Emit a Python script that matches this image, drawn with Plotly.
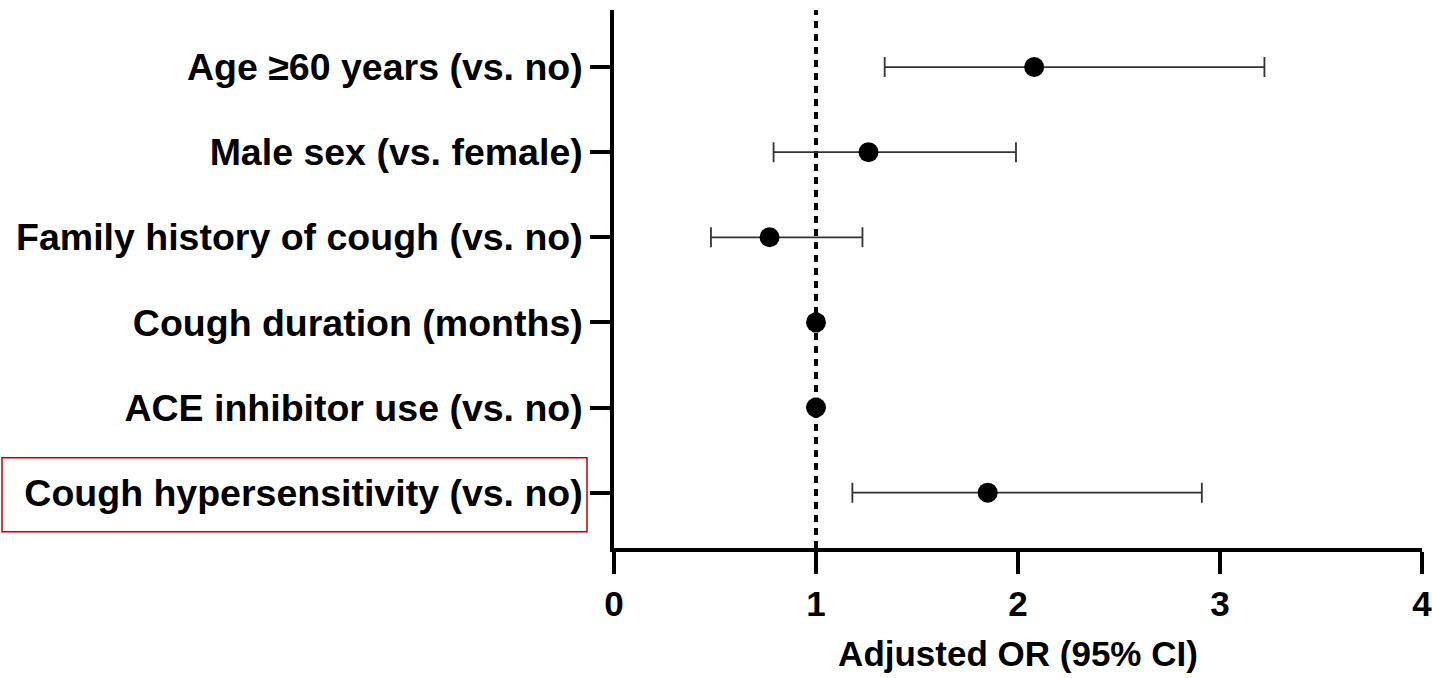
import plotly.graph_objects as go

categories = [
    "Age ≥60 years (vs. no)",
    "Male sex (vs. female)",
    "Family history of cough (vs. no)",
    "Cough duration (months)",
    "ACE inhibitor use (vs. no)",
    "Cough hypersensitivity (vs. no)",
]
odds_ratio = [2.08, 1.26, 0.77, 1.00, 1.00, 1.85]
ci_low = [1.34, 0.79, 0.48, 0.99, 0.99, 1.18]
ci_high = [3.22, 1.99, 1.23, 1.01, 1.01, 2.91]
x_ticks = [0, 1, 2, 3, 4]

positions = list(range(len(categories)))
err_plus = [h - o for h, o in zip(ci_high, odds_ratio)]
err_minus = [o - l for o, l in zip(odds_ratio, ci_low)]

fig = go.Figure()
fig.add_trace(go.Scatter(
    x=odds_ratio, y=positions, mode="markers",
    marker=dict(color="black", size=20, symbol="circle"),
    error_x=dict(type="data", symmetric=False, array=err_plus, arrayminus=err_minus,
                 color="#333333", thickness=1.8, width=10),
    showlegend=False,
))

fig.add_shape(type="line", x0=1, x1=1, xref="x", y0=0, y1=1, yref="paper",
              line=dict(color="black", width=4, dash="7px,6px"), layer="below")

L, R = 614, 1422
W = R - L
fig.add_shape(type="rect", xref="paper", yref="y",
              x0=(2 - L) / W, x1=(587 - L) / W, y0=5.46, y1=4.59,
              line=dict(color="#c00000", width=1.5))

font = "Liberation Sans, Arial, sans-serif"
fig.update_layout(
    width=1432, height=678,
    margin=dict(l=614, r=10, t=10, b=130, autoexpand=False),
    plot_bgcolor="white", paper_bgcolor="white",
    font=dict(family=font, color="black"),
)
fig.update_xaxes(
    range=[0, 4], tickvals=x_ticks, ticktext=[str(t) for t in x_ticks],
    showgrid=False, zeroline=False, showline=True, linecolor="black", linewidth=3.5,
    ticks="outside", ticklen=22, tickwidth=3.5, tickcolor="black",
    ticklabeloverflow="allow", automargin=False,
    tickfont=dict(size=35, family=font, weight="bold"),
    title=dict(text="Adjusted OR (95% CI)", font=dict(size=35, family=font, weight="bold"), standoff=21),
)
fig.update_yaxes(
    range=[5.65, -0.67], tickvals=positions, ticktext=categories,
    showgrid=False, zeroline=False, showline=True, linecolor="black", linewidth=3.5,
    ticks="outside", ticklen=20, tickwidth=3.5, tickcolor="black",
    ticklabelstandoff=0, automargin=False,
    tickfont=dict(size=37.5, family=font, weight="bold"),
)
fig.write_html("out.html")
